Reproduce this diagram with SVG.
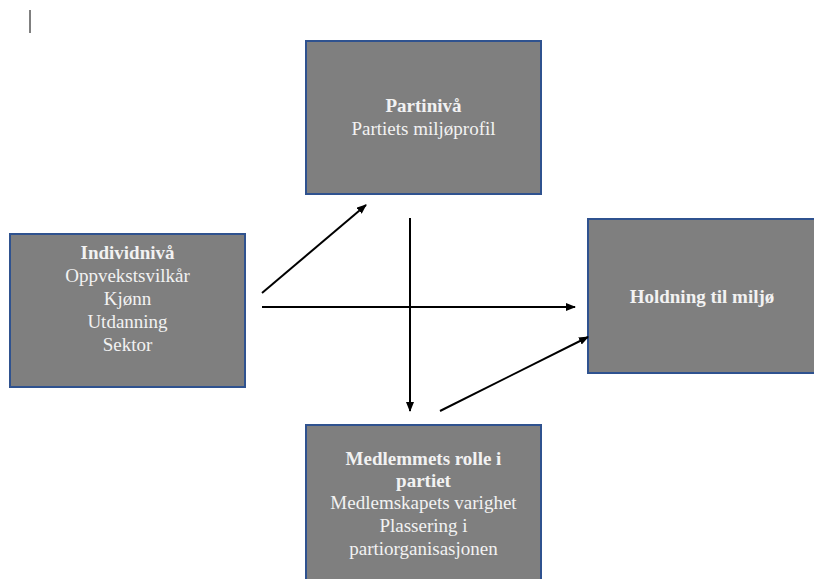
<svg xmlns="http://www.w3.org/2000/svg" width="814" height="579" viewBox="0 0 814 579">
<defs>
<marker id="ah" markerWidth="10" markerHeight="8" refX="9" refY="4" orient="auto" markerUnits="userSpaceOnUse">
<path d="M0,0 L10,4 L0,8 z" fill="#000"/>
</marker>
<style>
.box{fill:#7f7f7f;stroke:#2f528f;stroke-width:2}
.t{font-family:"Liberation Serif","Times New Roman",serif;font-size:19px;fill:#f2f2f2;text-anchor:middle}
.b{font-weight:bold}
.c{stroke:#000;stroke-width:2;fill:none}
</style>
</defs>
<rect width="814" height="579" fill="#fff"/>
<line x1="30" y1="10" x2="30" y2="33" stroke="#000" stroke-width="1"/>
<g id="partiniva">
<rect class="box" x="306" y="41" width="235" height="153"/>
<text class="t b" x="423.5" y="112">Partinivå</text>
<text class="t" x="423.5" y="135">Partiets miljøprofil</text>
</g>
<g id="individniva">
<rect class="box" x="10" y="234" width="235" height="153"/>
<text class="t b" x="127.5" y="259">Individnivå</text>
<text class="t" x="127.5" y="282">Oppvekstsvilkår</text>
<text class="t" x="127.5" y="305">Kjønn</text>
<text class="t" x="127.5" y="328">Utdanning</text>
<text class="t" x="127.5" y="351">Sektor</text>
</g>
<g id="holdning">
<rect class="box" x="588" y="219" width="235" height="154"/>
<text class="t b" x="702" y="303">Holdning til miljø</text>
</g>
<g id="medlem">
<rect class="box" x="306" y="425" width="235" height="160"/>
<text class="t b" x="423.5" y="465">Medlemmets rolle i</text>
<text class="t b" x="423.5" y="487">partiet</text>
<text class="t" x="423.5" y="509">Medlemskapets varighet</text>
<text class="t" x="423.5" y="532">Plassering i</text>
<text class="t" x="423.5" y="555">partiorganisasjonen</text>
</g>
<g id="connectors">
<line class="c" x1="262" y1="293" x2="366" y2="205" marker-end="url(#ah)"/>
<line class="c" x1="262" y1="307" x2="575" y2="307" marker-end="url(#ah)"/>
<line class="c" x1="410" y1="218" x2="410" y2="411" marker-end="url(#ah)"/>
<line class="c" x1="440" y1="411" x2="588" y2="337" marker-end="url(#ah)"/>
</g>
</svg>
